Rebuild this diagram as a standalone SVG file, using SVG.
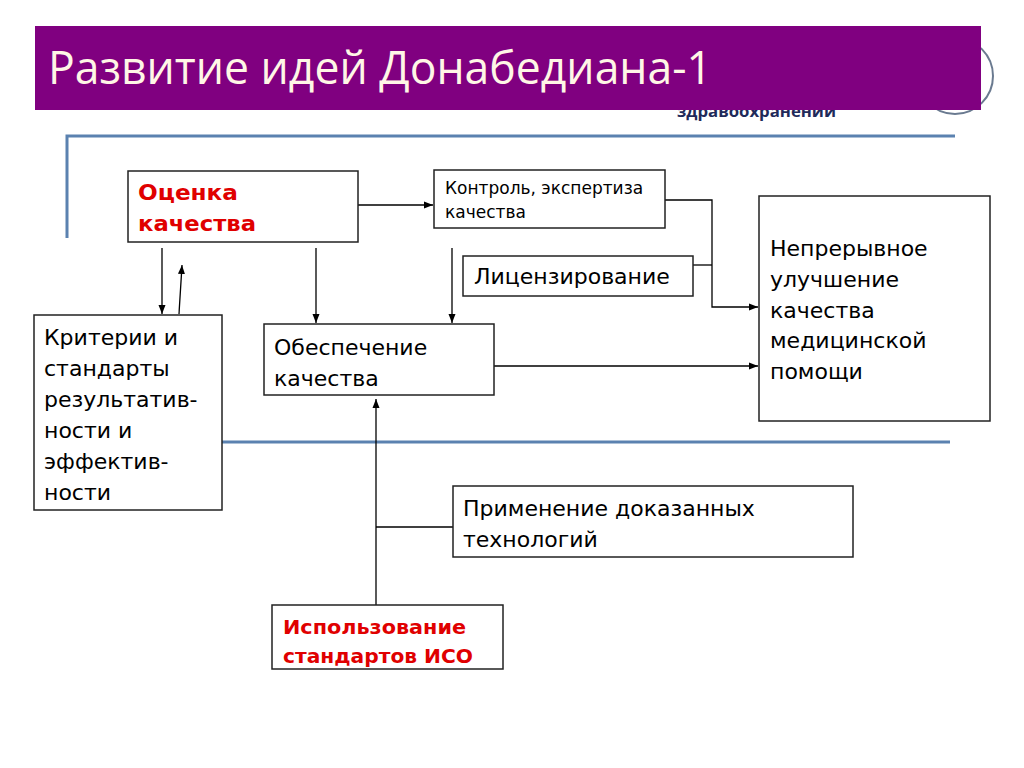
<svg xmlns="http://www.w3.org/2000/svg" width="1024" height="768" viewBox="0 0 1024 768">
<defs>
<marker id="arr" markerWidth="10" markerHeight="10" refX="9" refY="5" orient="auto" markerUnits="userSpaceOnUse">
<path d="M0,1.5 L9,5 L0,8.5 Z" fill="#000"/>
</marker>
<style>
.box{fill:#fff;stroke:#222;stroke-width:1.5}
.t{font-family:"DejaVu Sans","Liberation Sans",sans-serif;fill:#000;font-size:22px}
.r{font-family:"DejaVu Sans","Liberation Sans",sans-serif;fill:#e00000;font-weight:bold}
.c{fill:none;stroke:#000;stroke-width:1.3}
.blue{fill:none;stroke:#5b82b0;stroke-width:3}
</style>
</defs>
<rect width="1024" height="768" fill="#fff"/>
<g id="decor">
<circle cx="955" cy="76" r="38" fill="none" stroke="#6a7a90" stroke-width="2"/>
<text x="677" y="117" font-family="Open Sans, sans-serif" font-weight="bold" font-size="16" fill="#1f2a5a" textLength="159" lengthAdjust="spacingAndGlyphs">здравоохранении</text>
<rect x="35" y="26" width="946" height="84" fill="#800080"/>
<text x="48" y="84" font-family="Open Sans, sans-serif" font-size="46" fill="#fff6e6" textLength="664" lengthAdjust="spacingAndGlyphs">Развитие идей Донабедиана-1</text>
<polyline class="blue" points="67,238 67,136 955,136"/>
<line class="blue" x1="222" y1="442" x2="950" y2="442"/>
</g>
<g id="connectors">
<line class="c" x1="358" y1="205" x2="433" y2="205" marker-end="url(#arr)"/>
<line class="c" x1="162" y1="248" x2="162" y2="314" marker-end="url(#arr)"/>
<line class="c" x1="179" y1="314" x2="182" y2="265" marker-end="url(#arr)"/>
<line class="c" x1="316" y1="248" x2="316" y2="323" marker-end="url(#arr)"/>
<line class="c" x1="452" y1="248" x2="452" y2="323" marker-end="url(#arr)"/>
<polyline class="c" points="665,200 712,200 712,307 758,307" marker-end="url(#arr)"/>
<line class="c" x1="693" y1="265" x2="712" y2="265"/>
<line class="c" x1="494" y1="366" x2="758" y2="366" marker-end="url(#arr)"/>
<line class="c" x1="376" y1="605" x2="376" y2="399" marker-end="url(#arr)"/>
<line class="c" x1="453" y1="527" x2="376" y2="527"/>
</g>
<g id="ocenka">
<rect class="box" x="128" y="171" width="230" height="71"/>
<text class="r" x="138" y="200" font-size="21" textLength="100" lengthAdjust="spacingAndGlyphs">Оценка</text>
<text class="r" x="138" y="231" font-size="21" textLength="118" lengthAdjust="spacingAndGlyphs">качества</text>
</g>
<g id="kontrol">
<rect class="box" x="434" y="170" width="231" height="58"/>
<text class="t" x="445" y="194" style="font-size:17px">Контроль, экспертиза</text>
<text class="t" x="445" y="218" style="font-size:17px">качества</text>
</g>
<g id="licenz">
<rect class="box" x="463" y="256" width="230" height="40"/>
<text class="t" x="474" y="284">Лицензирование</text>
</g>
<g id="nepreryvnoe">
<rect class="box" x="759" y="196" width="231" height="225"/>
<text class="t" x="770" y="256">Непрерывное</text>
<text class="t" x="770" y="287">улучшение</text>
<text class="t" x="770" y="318">качества</text>
<text class="t" x="770" y="348">медицинской</text>
<text class="t" x="770" y="379">помощи</text>
</g>
<g id="kriterii">
<rect class="box" x="34" y="315" width="188" height="195"/>
<text class="t" x="44" y="345">Критерии и</text>
<text class="t" x="44" y="376">стандарты</text>
<text class="t" x="44" y="407">результатив-</text>
<text class="t" x="44" y="438">ности и</text>
<text class="t" x="44" y="469">эффектив-</text>
<text class="t" x="44" y="500">ности</text>
</g>
<g id="obespechenie">
<rect class="box" x="264" y="324" width="230" height="71"/>
<text class="t" x="274" y="355">Обеспечение</text>
<text class="t" x="274" y="386">качества</text>
</g>
<g id="primenenie">
<rect class="box" x="453" y="486" width="400" height="71"/>
<text class="t" x="463" y="516">Применение доказанных</text>
<text class="t" x="463" y="547">технологий</text>
</g>
<g id="iso">
<rect class="box" x="272" y="605" width="231" height="64"/>
<text class="r" x="283" y="634" font-size="20" textLength="183" lengthAdjust="spacingAndGlyphs">Использование</text>
<text class="r" x="283" y="663" font-size="20" textLength="190" lengthAdjust="spacingAndGlyphs">стандартов ИСО</text>
</g>
</svg>
